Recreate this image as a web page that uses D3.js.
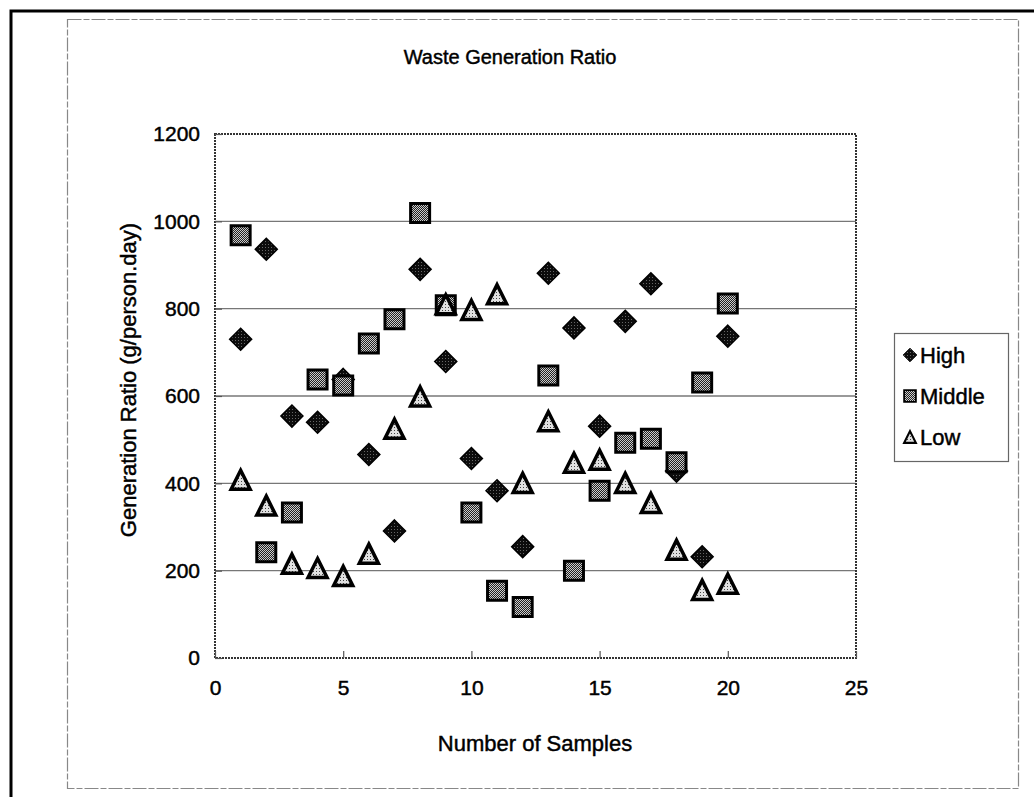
<!DOCTYPE html>
<html>
<head>
    <title>waste generation ratio</title>
    <script src="https://d3js.org/d3.v7.min.js"></script>
</head>
<style>
    body {
        margin: 0;
        background: #fff;
    }
    text {
        font-family: Arial, "Liberation Sans", sans-serif;
        fill: #000;
        stroke: #000;
        stroke-width: 0.45px;
    }
</style>
<body>
    <svg class='chart'></svg>
</body>
<script>
    //data
    var samples = [1, 2, 3, 4, 5, 6, 7, 8, 9, 10, 11, 12, 13, 14, 15, 16, 17, 18, 19, 20];
    var highValues = [730, 936, 554, 540, 638, 466, 291, 890, 679, 457, 383, 255, 881, 756, 531, 771, 857, 428, 232, 737];
    var middleValues = [968, 242, 333, 638, 624, 720, 776, 1019, 808, 333, 154, 117, 647, 200, 383, 493, 502, 448, 631, 812];
    var lowValues = [408, 349, 216, 206, 188, 239, 525, 599, 810, 797, 833, 401, 542, 447, 454, 401, 355, 248, 156, 170];
    var seriesNames = ["High", "Middle", "Low"];
    var xTicks = [0, 5, 10, 15, 20, 25];
    var yTicks = [0, 200, 400, 600, 800, 1000, 1200];

    var W = 1034, H = 797;
    var svg = d3.select(".chart")
        .attr("width", W)
        .attr("height", H);

    //fill patterns (scanned look)
    var defs = svg.append("defs");
    var pHigh = defs.append("pattern").attr("id", "pHigh")
        .attr("width", 3).attr("height", 3).attr("patternUnits", "userSpaceOnUse");
    pHigh.append("rect").attr("width", 3).attr("height", 3).attr("fill", "#0c0c0c");
    pHigh.append("rect").attr("x", 1).attr("y", 1).attr("width", 1).attr("height", 1).attr("fill", "#666");

    var pMid = defs.append("pattern").attr("id", "pMid")
        .attr("width", 2).attr("height", 2).attr("patternUnits", "userSpaceOnUse");
    pMid.append("rect").attr("width", 2).attr("height", 2).attr("fill", "#222");
    pMid.append("rect").attr("width", 1).attr("height", 1).attr("fill", "#ccc");
    pMid.append("rect").attr("x", 1).attr("y", 1).attr("width", 1).attr("height", 1).attr("fill", "#ccc");

    var pLow = defs.append("pattern").attr("id", "pLow")
        .attr("width", 3).attr("height", 3).attr("patternUnits", "userSpaceOnUse");
    pLow.append("rect").attr("width", 3).attr("height", 3).attr("fill", "#e0e0e0");
    pLow.append("rect").attr("x", 1).attr("y", 1).attr("width", 1).attr("height", 1).attr("fill", "#444");

    //outer frames
    svg.append("path")
        .attr("d", "M11," + H + " L11,11 L" + W + ",11")
        .attr("fill", "none")
        .attr("stroke", "#000")
        .attr("stroke-width", 3);
    svg.append("rect")
        .attr("x", 67.5).attr("y", 19.5)
        .attr("width", 951).attr("height", 769)
        .attr("fill", "none")
        .attr("stroke", "#888")
        .attr("stroke-width", 1.2)
        .attr("stroke-dasharray", "14,2,6,2");

    //scales
    var xScale = d3.scaleLinear().domain([0, 25]).range([215, 856]);
    var yScale = d3.scaleLinear().domain([0, 1200]).range([658, 134]);

    //gridlines
    svg.append("g")
        .selectAll("line")
        .data(yTicks.filter(function(d) { return d > 0 && d < 1200; }))
        .enter()
        .append("line")
        .attr("x1", xScale(0))
        .attr("x2", xScale(25))
        .attr("y1", function(d) { return yScale(d); })
        .attr("y2", function(d) { return yScale(d); })
        .attr("stroke", "#777")
        .attr("stroke-width", 1.3);

    //plot area border
    svg.append("rect")
        .attr("x", xScale(0))
        .attr("y", yScale(1200))
        .attr("width", xScale(25) - xScale(0))
        .attr("height", yScale(0) - yScale(1200))
        .attr("fill", "none")
        .attr("stroke", "#333")
        .attr("stroke-width", 2)
        .attr("stroke-dasharray", "2,1");

    //axes
    var xAxis = d3.axisBottom(xScale).tickValues(xTicks).tickFormat(d3.format("d"))
        .tickSizeInner(-7).tickSizeOuter(0).tickPadding(22);
    var yAxis = d3.axisLeft(yScale).tickValues(yTicks).tickFormat(d3.format("d"))
        .tickSizeInner(-7).tickSizeOuter(0).tickPadding(22);

    var gx = svg.append("g")
        .attr("transform", "translate(0," + yScale(0) + ")")
        .call(xAxis);
    var gy = svg.append("g")
        .attr("transform", "translate(" + xScale(0) + ",0)")
        .call(yAxis);
    gx.select(".domain").remove();
    gy.select(".domain").remove();
    svg.selectAll(".tick line").attr("stroke", "#555").attr("stroke-width", 1.2);
    svg.selectAll(".tick text")
        .style("font-family", "Arial, 'Liberation Sans', sans-serif")
        .style("font-size", "21px")
        .attr("fill", "#000");
    gx.selectAll(".tick text").attr("dy", "0.72em");
    gy.selectAll(".tick text").attr("x", -15);

    //titles
    svg.append("text")
        .attr("x", 510)
        .attr("y", 64)
        .attr("text-anchor", "middle")
        .style("font-size", "20px")
        .text("Waste Generation Ratio");

    svg.append("text")
        .attr("x", 535)
        .attr("y", 751)
        .attr("text-anchor", "middle")
        .style("font-size", "22px")
        .text("Number of Samples");

    svg.append("text")
        .attr("transform", "translate(136,380) rotate(-90)")
        .attr("text-anchor", "middle")
        .style("font-size", "22px")
        .text("Generation Ratio (g/person.day)");

    //marker shapes
    function diamondPath(cx, cy, r) {
        return "M" + cx + "," + (cy - r) + "L" + (cx + r) + "," + cy + "L" + cx + "," + (cy + r) + "L" + (cx - r) + "," + cy + "Z";
    }
    function squarePath(cx, cy, r) {
        return "M" + (cx - r) + "," + (cy - r) + "h" + (2 * r) + "v" + (2 * r) + "h" + (-2 * r) + "Z";
    }
    function trianglePath(cx, cy, r) {
        return "M" + cx + "," + (cy - r) + "L" + (cx + r) + "," + (cy + r) + "L" + (cx - r) + "," + (cy + r) + "Z";
    }

    var seriesList = [
        { name: "High", values: highValues, shape: diamondPath, size: 11, fill: "url(#pHigh)", sw: 1.5 },
        { name: "Middle", values: middleValues, shape: squarePath, size: 9.5, fill: "url(#pMid)", sw: 3 },
        { name: "Low", values: lowValues, shape: trianglePath, size: 9.5, fill: "url(#pLow)", sw: 3.5 }
    ];

    //draw points, series in order so low lands on top
    seriesList.forEach(function(s) {
        svg.append("g")
            .selectAll("path")
            .data(s.values)
            .enter()
            .append("path")
            .attr("d", function(d, i) {
                return s.shape(xScale(samples[i]), yScale(d), s.size);
            })
            .attr("fill", s.fill)
            .attr("stroke", "#000")
            .attr("stroke-width", s.sw)
            .attr("stroke-linejoin", "miter");
    });

    //legend
    var legend = svg.append("g");
    legend.append("rect")
        .attr("x", 894.5).attr("y", 333.5)
        .attr("width", 114).attr("height", 128)
        .attr("fill", "#fff")
        .attr("stroke", "#666")
        .attr("stroke-width", 1.2);

    seriesList.forEach(function(s, i) {
        var ly = 355 + i * 41;
        legend.append("path")
            .attr("d", s.shape(910, ly, s.size * 0.62))
            .attr("fill", s.fill)
            .attr("stroke", "#000")
            .attr("stroke-width", s.sw * 0.6);
        legend.append("text")
            .attr("x", 920)
            .attr("y", ly + 8)
            .style("font-size", "22px")
            .text(seriesNames[i]);
    });
</script>
</html>
